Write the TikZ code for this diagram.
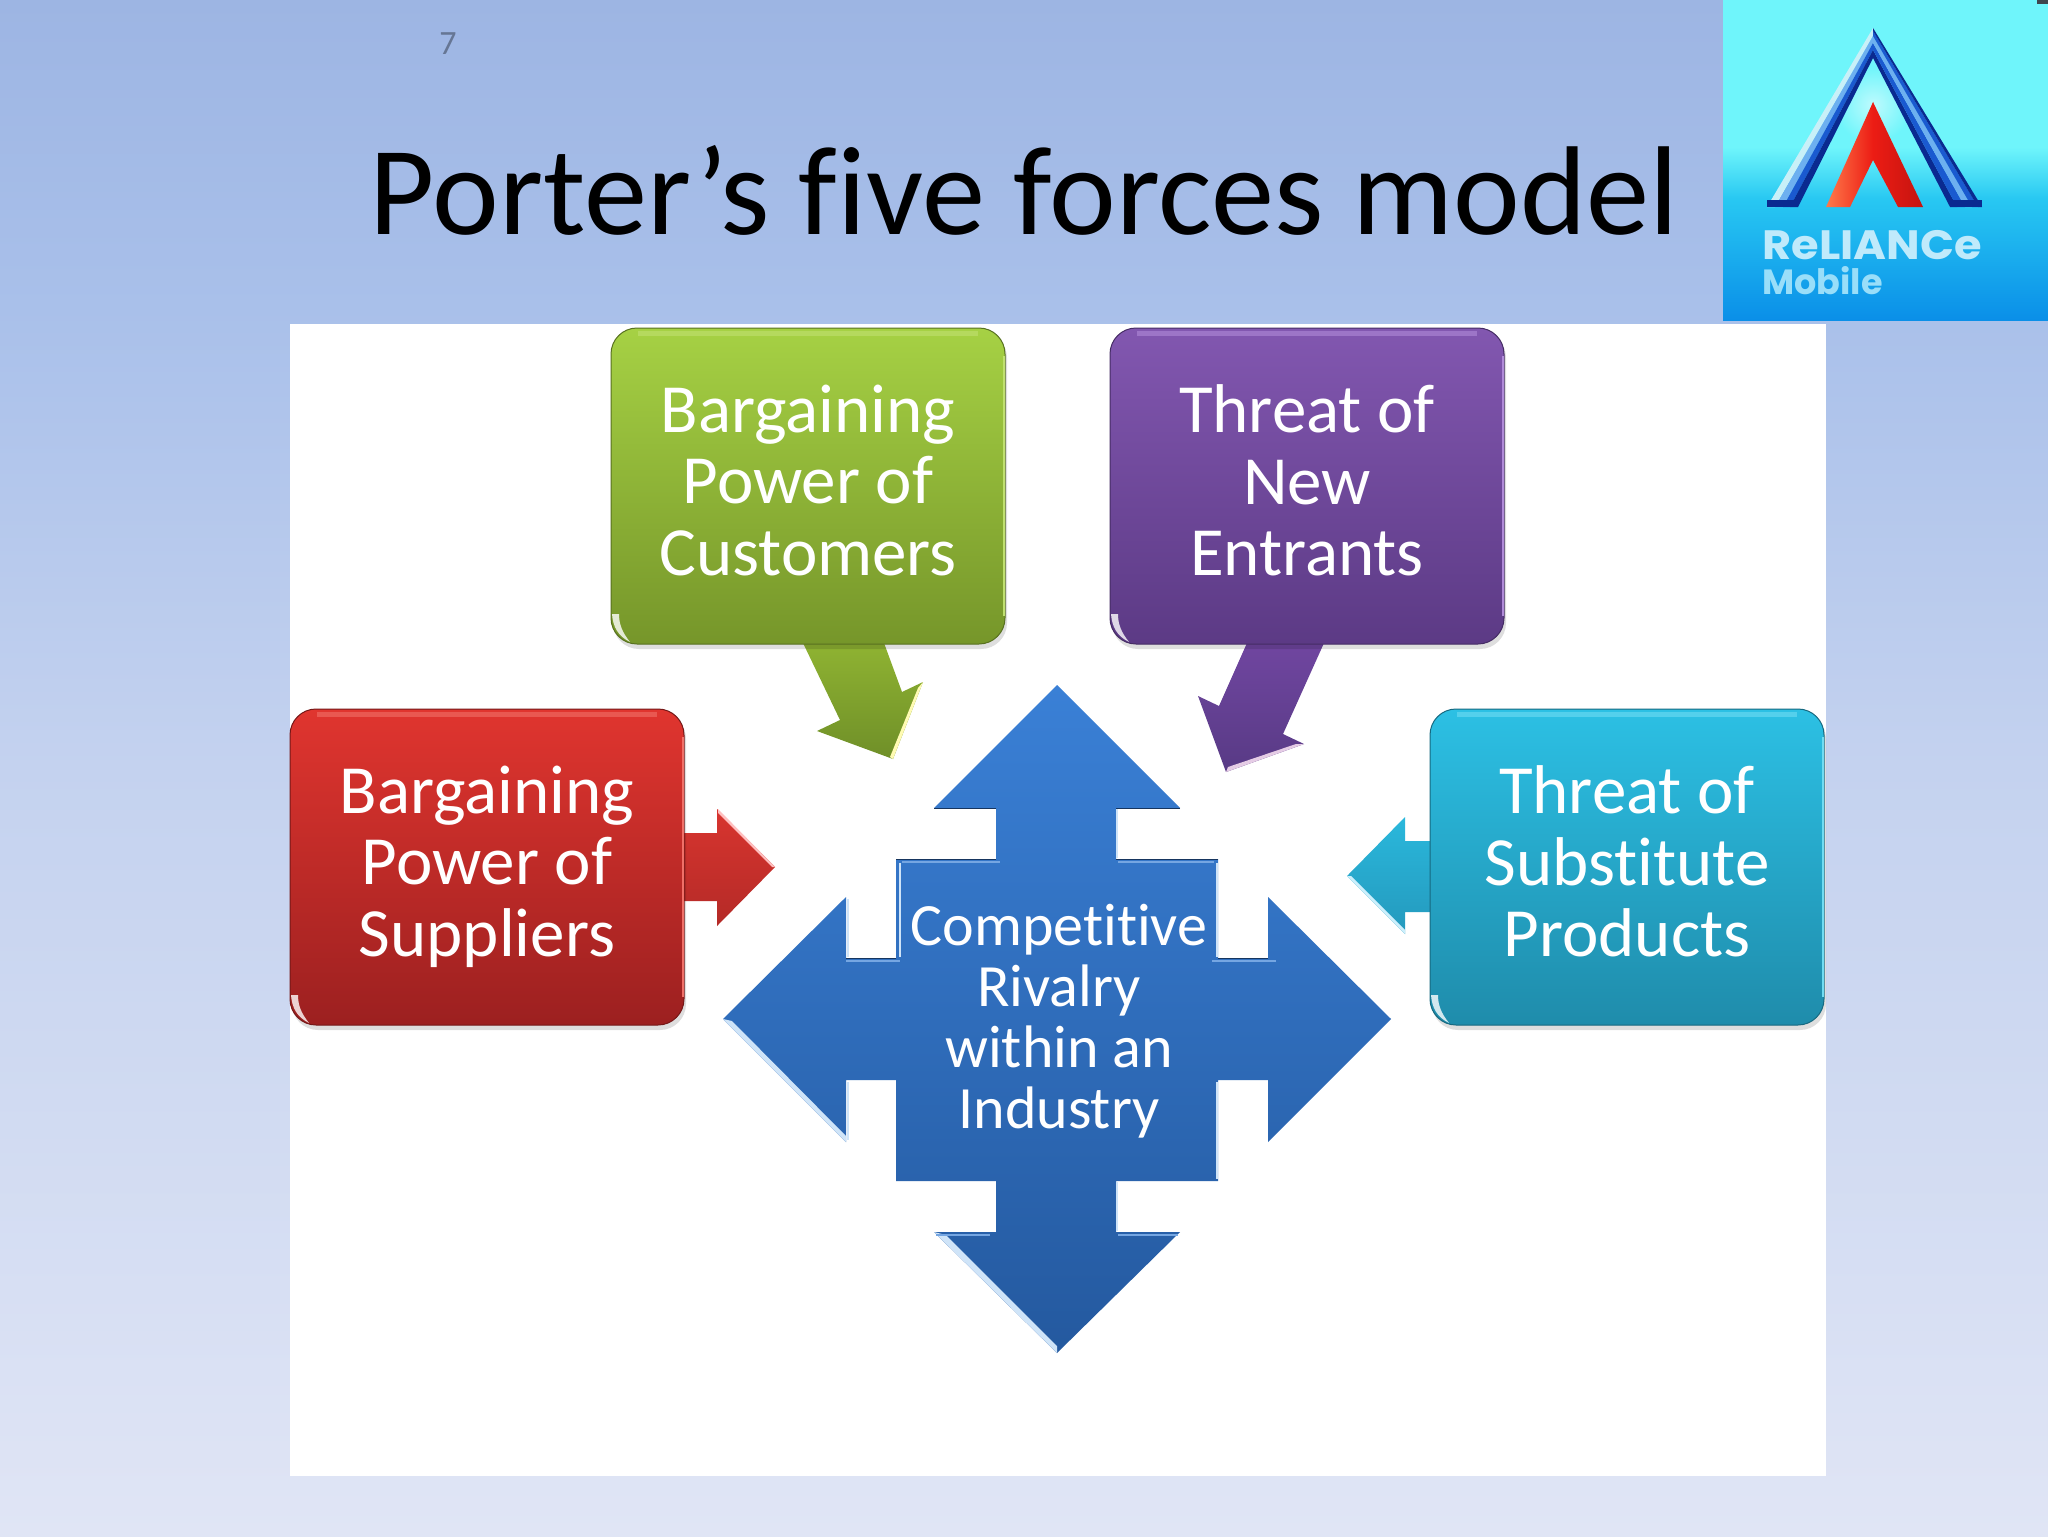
\documentclass[tikz,border=0pt]{standalone}
\usepackage{fontspec}
\setmainfont[RawFeature={-liga;-dlig;-clig}]{Carlito}
\newfontfamily\logofont{Poppins}
\definecolor{bgA}{HTML}{9DB5E3}
\definecolor{bgB}{HTML}{A9C0EA}
\definecolor{bgC}{HTML}{E0E5F5}
\definecolor{bgD}{HTML}{C4D2EF}
\definecolor{lgA}{HTML}{6FF5FB}
\definecolor{lgB}{HTML}{28C8F2}
\definecolor{lgC}{HTML}{0A8FE8}
\pgfdeclareverticalshading{slidebg}{100bp}{color(0bp)=(bgC); color(25bp)=(bgC); color(50bp)=(bgD); color(65bp)=(bgB); color(75bp)=(bgA); color(100bp)=(bgA)}
\pgfdeclareverticalshading{logobg}{100bp}{color(0bp)=(lgC); color(25bp)=(lgC); color(44bp)=(lgB); color(52bp)=(lgA); color(100bp)=(lgA)}
\tikzset{
  forcebox/.style={rounded corners=13pt,inner sep=0pt,align=center,text=white,
    minimum width=197pt,minimum height=158pt,line width=.5pt,
    font=\fontsize{34.5}{35.6}\selectfont},
  glint/.style={line width=1.2pt,draw=#1},
  rim/.style={line width=.5pt,draw=#1}
}
% name, cx, cy, top, bottom, band, text
\newcommand{\bevelbox}[7]{
  \fill[black,opacity=.13,rounded corners=13pt] (#2-195,#3-154) rectangle (#2+199,#3+163);
  \node[forcebox,top color=#4,bottom color=#5,draw=#5!75!black] (#1) at (#2,#3) {#7\vphantom{g}};
  \fill[#6,opacity=.6] (#2-170,#3-155) rectangle (#2+170,#3-150);
  \draw[glint=#6] (#2+196,#3-130) -- (#2+196,#3+130);
  \fill[white,opacity=.8] (#2-196,#3+128) .. controls (#2-195,#3+141) and (#2-190,#3+150) .. (#2-178,#3+156) .. controls (#2-186,#3+146) and (#2-189,#3+138) .. (#2-189,#3+128) -- cycle;
}
\begin{document}
\begin{tikzpicture}[x=0.5pt,y=-0.5pt]
\useasboundingbox (0,0) rectangle (2048,1536);
\shade[shading=slidebg] (0,0) rectangle (2048,1536);
% white panel
\fill[white] (290,324) rectangle (1826,1476);
% logo
\shade[shading=logobg] (1723,0) rectangle (2048,320);
\fill[black!80!cyan] (2037,0) rectangle (2048,4);
\shade[inner color=white!55!lgA,outer color=lgA] (1873,105) circle (38);
\definecolor{laA}{HTML}{C8F0F8}\definecolor{laB}{HTML}{6DB0F0}\definecolor{laC}{HTML}{1A5AD0}\definecolor{laD}{HTML}{0A2A90}
\foreach \xa/\xb/\ya/\yb/\c in {1767/1775/28/36/laA,1775/1783/36/43/laB,1783/1790/43/50/laC,1790/1798/50/58/laD}
  \fill[\c] (\xa,207) -- (\xb,207) -- (1873,\yb) -- (1873,\ya) -- cycle;
\foreach \xa/\xb/\ya/\yb/\c in {1950/1957/58/50/laD,1957/1965/50/43/laC,1965/1972/43/36/laB,1972/1978/36/31/laC,1978/1982/31/28/laD}
  \fill[\c] (\xa,207) -- (\xb,207) -- (1873,\yb) -- (1873,\ya) -- cycle;
\fill[laD] (1767,200) rectangle (1798,207);
\fill[laD] (1950,200) rectangle (1982,207);
\definecolor{lrA}{HTML}{FF7A4A}\definecolor{lrB}{HTML}{EC1C14}\definecolor{lrC}{HTML}{C41410}
\shade[left color=lrA,right color=lrB] (1873,102) -- (1873,160) -- (1850,207) -- (1826,207) -- cycle;
\shade[left color=lrB,right color=lrC] (1873,102) -- (1923,207) -- (1898,207) -- (1873,160) -- cycle;
\node[font=\logofont\bfseries\fontsize{20.5}{20.5}\selectfont,text=white!75!cyan,anchor=base west,inner sep=0pt,xscale=1.09] (logoname) at (1762,259) {ReLIANCe};
\node[font=\logofont\bfseries\fontsize{17.5}{17.5}\selectfont,text=white!60!cyan,anchor=base west,inner sep=0pt] (logosub) at (1762,294) {Mobile};
% page number and title
\node[font=\fontsize{17}{17}\selectfont,text=black!35!bgA,inner sep=0pt] (pagenum) at (448,44) {7};
\node[font=\fontsize{63.2}{63.2}\selectfont,text=black,anchor=base,inner sep=0pt] (title) at (1024,234) {Porter’s five forces model};
% arrows from the boxes
\definecolor{raT}{HTML}{D8352F}\definecolor{raB}{HTML}{B42A27}
\definecolor{caT}{HTML}{2AB8DC}\definecolor{caB}{HTML}{2499BD}
\shade[top color=raT,bottom color=raB] (683,833) -- (717,833) -- (717,809) -- (775,867) -- (717,926) -- (717,901) -- (683,901) -- cycle;
\fill[red!25!white] (718,809) -- (775,867) -- (772,867) -- (718,813) -- cycle;
\shade[top color=caT,bottom color=caB] (1430,841) -- (1405,841) -- (1405,817) -- (1347,876) -- (1405,934) -- (1405,912) -- (1430,912) -- cycle;
\fill[cyan!20!white] (1347,876) -- (1405,934) -- (1405,930) -- (1351,876) -- cycle;
\definecolor{gaT}{HTML}{8FB332}\definecolor{gaB}{HTML}{6F8F28}
\definecolor{paT}{HTML}{7046A0}\definecolor{paB}{HTML}{583A85}
\shade[top color=gaT,bottom color=gaB] (803,643) -- (884,643) -- (902,692) -- (923,682) -- (893,759) -- (817,731) -- (840,720) -- cycle;
\fill[yellow!30!white] (923,682) -- (893,759) -- (890,757) -- (918,688) -- cycle;
\shade[top color=paT,bottom color=paB] (1247,643) -- (1324,643) -- (1283,734) -- (1304,744) -- (1226,772) -- (1198,696) -- (1219,706) -- cycle;
\fill[violet!20!white] (1226,772) -- (1304,744) -- (1296,744) -- (1228,767) -- cycle;
% boxes
\definecolor{gT}{HTML}{A6D144}\definecolor{gB}{HTML}{76962A}\definecolor{gH}{HTML}{C0E070}
\definecolor{pT}{HTML}{8257B0}\definecolor{pB}{HTML}{5C3A85}\definecolor{pH}{HTML}{B08AD8}
\definecolor{rT}{HTML}{E0352F}\definecolor{rB}{HTML}{9C2020}\definecolor{rH}{HTML}{F07068}
\definecolor{cT}{HTML}{2CC0E4}\definecolor{cB}{HTML}{1F8CAB}\definecolor{cH}{HTML}{70DCF2}
\bevelbox{customers}{808}{486}{gT}{gB}{gH}{Bargaining\\Power of\\Customers}
\bevelbox{entrants}{1307}{486}{pT}{pB}{pH}{Threat of\\New\\Entrants}
\bevelbox{suppliers}{487}{867}{rT}{rB}{rH}{Bargaining\\Power of\\Suppliers}
\bevelbox{substitutes}{1627}{867}{cT}{cB}{cH}{Threat of\\Substitute\\Products}
% central four-way arrow
\definecolor{xT}{HTML}{3A80D6}\definecolor{xB}{HTML}{24599F}\definecolor{xH}{HTML}{CFE4F8}
\shade[top color=xT,bottom color=xB] (1057,685) -- (1180,808) -- (1116,808) -- (1116,859) -- (1218,859) -- (1218,958) -- (1268,958) -- (1268,897) -- (1391,1019) -- (1268,1142) -- (1268,1080) -- (1218,1080) -- (1218,1181) -- (1116,1181) -- (1116,1232) -- (1180,1232) -- (1057,1353) -- (934,1232) -- (996,1232) -- (996,1181) -- (896,1181) -- (896,1080) -- (846,1080) -- (846,1142) -- (723,1019) -- (846,897) -- (846,958) -- (896,958) -- (896,859) -- (996,859) -- (996,808) -- (934,808) -- cycle;
\fill[xH] (723,1019) -- (846,1142) -- (846,1136) -- (732,1021) -- cycle;
\fill[xH] (934,1232) -- (1057,1353) -- (1057,1346) -- (946,1235) -- cycle;
\foreach \xa/\ya/\yb in {1117/808/858,848/899/957,848/1082/1140,900/863/957,1217/863/957,1217/1082/1179,1117/1182/1231}
  \draw[glint=xH] (\xa,\ya) -- (\xa,\yb);
\foreach \xa/\xb/\ya in {902/1000/862,1118/1214/862,846/900/961,1212/1276/961,1118/1178/1235,936/990/1235}
  \draw[glint=xT!70!white] (\xa,\ya) -- (\xb,\ya);
\foreach \xa/\xb/\ya in {896/996/859,1116/1218/859,846/896/958,1218/1268/958,934/996/808,1116/1180/808}
  \draw[rim=xB!60!black] (\xa,\ya) -- (\xb,\ya);
\node[font=\fontsize{30}{30.4}\selectfont,text=white,align=center,inner sep=0pt] (rivalry) at (1059,1021) {Competitive\\Rivalry\\within an\\Industry};
\end{tikzpicture}
\end{document}
